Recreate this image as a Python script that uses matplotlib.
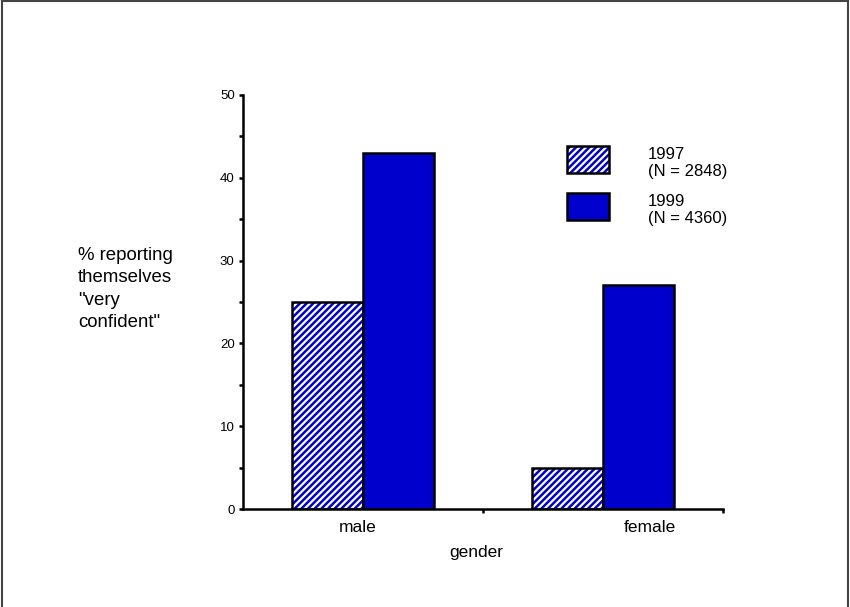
import numpy as np
import matplotlib
matplotlib.use('Agg')
import matplotlib.pyplot as plt
from matplotlib.lines import Line2D
from matplotlib.patches import Rectangle

plt.rcParams['font.family'] = ['Liberation Sans', 'DejaVu Sans']
plt.rcParams['hatch.linewidth'] = 1.6

groups = ['male', 'female']
years = ['1997\n(N = 2848)', '1999\n(N = 4360)']
vals1997 = [25, 5]
vals1999 = [43, 27]

blue = '#0000CC'

fig = plt.figure(figsize=(8.5, 6.07), dpi=100)
ax = fig.add_axes([0.2859, 0.1614, 0.5647, 0.6821])

x = np.array([0.5, 1.5])
w = 0.295
# hatched 1997 bars: white dashed diagonals on blue, then black outline
ax.bar(x - w/2, vals1997, w, color=blue, edgecolor='white', hatch='/////', linewidth=0)
ax.bar(x - w/2, vals1997, w, fill=False, edgecolor='black', linewidth=1.8)
ax.bar(x + w/2, vals1999, w, color=blue, edgecolor='black', linewidth=1.8)

ax.set_xlim(0, 2)
ax.set_ylim(0, 50)
ax.spines['top'].set_visible(False)
ax.spines['right'].set_visible(False)
ax.spines['left'].set_linewidth(1.8)
ax.spines['bottom'].set_linewidth(1.8)

ax.set_yticks([0, 10, 20, 30, 40, 50])
ax.set_yticks(np.arange(5, 50, 10), minor=True)
ax.tick_params(axis='y', which='both', length=3, width=1.8, labelsize=9.5, pad=3)
ax.set_xticks([1.0, 2.0])
ax.set_xticklabels(['', ''])
ax.tick_params(axis='x', length=3, width=1.8)
# category labels sit off-centre in the original
for xi, g in zip([0.479, 1.696], groups):
    ax.text(xi, -1.3, g, ha='center', va='top', fontsize=12.5)
ax.text(0.97, -4.3, 'gender', ha='center', va='top', fontsize=12.5)

fig.text(78/850, 1 - 247/607, '% reporting\nthemselves\n"very\nconfident"',
         ha='left', va='top', fontsize=13.4, linespacing=1.42)

# legend drawn by hand
leg_y = [146, 193]
for i, (lab, yy) in enumerate(zip(years, leg_y)):
    y0 = 1 - (yy + 27) / 607
    if i == 0:
        fig.add_artist(Rectangle((567/850, y0), 42/850, 27/607, transform=fig.transFigure,
                                 facecolor=blue, edgecolor='white', hatch='/////', linewidth=0))
    else:
        fig.add_artist(Rectangle((567/850, y0), 42/850, 27/607, transform=fig.transFigure,
                                 facecolor=blue, linewidth=0))
    fig.add_artist(Rectangle((567/850, y0), 42/850, 27/607, transform=fig.transFigure,
                             fill=False, edgecolor='black', linewidth=1.8))
    fig.text(648/850, 1 - (yy + 1) / 607, lab, ha='left', va='top', fontsize=12, linespacing=1.15)

# frame around the picture (left, top, right)
for xs, ys in [([0.002, 0.002], [0, 0.998]), ([0.002, 0.998], [0.998, 0.998]), ([0.998, 0.998], [0.998, 0])]:
    fig.add_artist(Line2D(xs, ys, transform=fig.transFigure, color='#444444', linewidth=1.5))

fig.savefig('out.png', dpi=100)
